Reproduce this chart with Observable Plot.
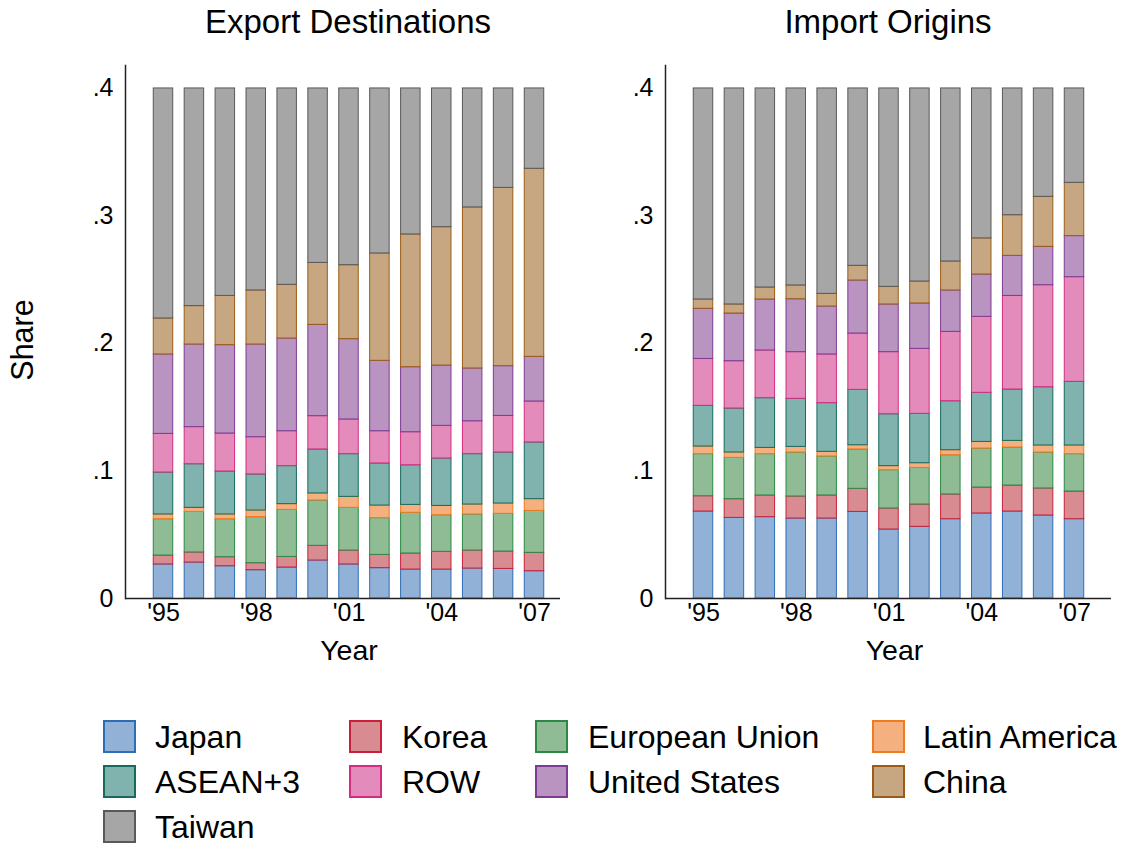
<!DOCTYPE html>
<html>
<head>
<meta charset="utf-8">
<script src="https://cdn.jsdelivr.net/npm/d3@7"></script>
<script src="https://cdn.jsdelivr.net/npm/@observablehq/plot@0.6"></script>
<style>
  body { margin: 0; background: #fff; font-family: "Liberation Sans", Arial, sans-serif; }
  #root { position: relative; width: 1121px; height: 844px; overflow: hidden; }
  .title { position: absolute; top: 2px; width: 600px; text-align: center; font-size: 33px; line-height: 40px; color: #000; }
  .panel { position: absolute; top: 50px; }
  .sw { position: absolute; width: 33px; height: 33px; box-sizing: border-box; border: 2px solid; }
  .lt { position: absolute; font-size: 32px; line-height: 40px; color: #000; white-space: nowrap; }
  .ylab { position: absolute; left: 22px; top: 340px; width: 200px; margin-left: -100px; margin-top: -20px; text-align: center; font-size: 30.5px; line-height: 40px; transform: rotate(-90deg); color: #000; }
</style>
</head>
<body>
<div id="root"></div>
<script>
const years = [1995, 1996, 1997, 1998, 1999, 2000, 2001, 2002, 2003, 2004, 2005, 2006, 2007];
const yearTicks = [1995, 1998, 2001, 2004, 2007];
const shareTicks = [0, 0.1, 0.2, 0.3, 0.4];
const regions = ["Japan", "Korea", "European Union", "Latin America", "ASEAN+3", "ROW", "United States", "China", "Taiwan"];
const fills   = ["#91b2d6", "#d98b92", "#8fbc95", "#f4b07e", "#80b3ad", "#e38bba", "#b994c1", "#c6a782", "#a6a6a6"];
const strokes = ["#2e6db5", "#c8203a", "#2a8a45", "#f07a1e", "#166b5e", "#d52b80", "#7d3b94", "#9c5c16", "#595959"];

// Export destinations (shares by year, 1995-2007)
const expJapan = [.0267, .0282, .0253, .0222, .0243, .0298, .0267, .0238, .0227, .0227, .0235, .0232, .0214];
const expKorea = [.0070, .0079, .0071, .0055, .0083, .0115, .0109, .0104, .0126, .0139, .0141, .0136, .0144];
const expEU    = [.0285, .0318, .0298, .0361, .0369, .0356, .0335, .0288, .0319, .0287, .0283, .0296, .0329];
const expLatAm = [.0037, .0032, .0037, .0052, .0045, .0055, .0086, .0099, .0062, .0073, .0078, .0081, .0092];
const expASEAN = [.0329, .0342, .0337, .0283, .0298, .0345, .0335, .0330, .0311, .0372, .0395, .0400, .0445];
const expROW   = [.0303, .0291, .0298, .0292, .0274, .0261, .0272, .0253, .0259, .0256, .0258, .0287, .0321];
const expUS    = [.0623, .0648, .0693, .0727, .0727, .0716, .0630, .0552, .0510, .0473, .0414, .0390, .0350];
const expChina = [.0282, .0301, .0386, .0424, .0421, .0486, .0580, .0842, .1041, .1085, .1263, .1398, .1475];
const expTaiwan= [.1804, .1707, .1627, .1584, .1540, .1368, .1386, .1294, .1145, .1088, .0933, .0780, .0630];

// Import origins (shares by year, 1995-2007)
const impJapan = [.0682, .0632, .0638, .0627, .0627, .0679, .0541, .0562, .0622, .0667, .0682, .0651, .0622];
const impKorea = [.0120, .0147, .0170, .0173, .0181, .0181, .0165, .0175, .0194, .0203, .0204, .0212, .0217];
const impEU    = [.0330, .0324, .0324, .0345, .0306, .0309, .0300, .0287, .0308, .0306, .0298, .0282, .0293];
const impLatAm = [.0060, .0042, .0049, .0044, .0036, .0033, .0032, .0037, .0039, .0052, .0052, .0055, .0068];
const impASEAN = [.0319, .0345, .0390, .0377, .0382, .0434, .0407, .0387, .0384, .0385, .0403, .0457, .0499];
const impROW   = [.0368, .0371, .0374, .0366, .0382, .0442, .0487, .0510, .0544, .0596, .0734, .0800, .0821];
const impUS    = [.0393, .0374, .0400, .0415, .0376, .0416, .0374, .0356, .0325, .0332, .0314, .0301, .0322];
const impChina = [.0073, .0071, .0094, .0108, .0099, .0115, .0138, .0172, .0227, .0283, .0319, .0392, .0418];
const impTaiwan= [.1655, .1694, .1561, .1545, .1611, .1391, .1556, .1514, .1357, .1176, .0994, .0850, .0740];

const exportSeries = [expJapan, expKorea, expEU, expLatAm, expASEAN, expROW, expUS, expChina, expTaiwan];
const importSeries = [impJapan, impKorea, impEU, impLatAm, impASEAN, impROW, impUS, impChina, impTaiwan];

function toRows(series) {
  const rows = [];
  series.forEach((vals, r) => {
    vals.forEach((v, i) => rows.push({year: years[i], region: regions[r], share: v, fill: fills[r], stroke: strokes[r]}));
  });
  return rows;
}

const fmtShare = d => d === 0 ? "0" : d3.format(".1f")(d).replace(/^0/, "");
const fmtYear = d => "'" + String(d).slice(2);

function panel(rows, width) {
  return Plot.plot({
    width, height: 630,
    marginLeft: 125, marginRight: 0, marginTop: 15, marginBottom: 82,
    style: {fontFamily: "'Liberation Sans', Arial, sans-serif", fontSize: "25px", background: "transparent", overflow: "visible", color: "#000"},
    x: {type: "band", domain: years, range: [137.8, 559.2], paddingInner: 0.37, paddingOuter: 0.5, round: false},
    y: {domain: [0, 0.418]},
    color: {type: "identity"},
    marks: [
      Plot.barY(rows, {x: "year", y: "share", fill: "fill", stroke: "stroke", strokeWidth: 1}),
      Plot.ruleY([0], {stroke: "#222", strokeWidth: 1.5}),
      Plot.frame({anchor: "left", stroke: "#222", strokeWidth: 1.5}),
      Plot.axisY({ticks: shareTicks, tickSize: 0, tickPadding: 12, tickFormat: fmtShare, label: null, fontSize: 25}),
      Plot.axisX({ticks: yearTicks, tickSize: 0, tickPadding: 5, tickFormat: fmtYear, label: null, fontSize: 25}),
      Plot.text(["Year"], {text: d => d, frameAnchor: "bottom", dy: 61, dx: 6, fontSize: 28.5})
    ]
  });
}

const root = document.getElementById("root");

function addTitle(text, center) {
  const t = document.createElement("div");
  t.className = "title";
  t.textContent = text;
  t.style.left = (center - 300) + "px";
  root.appendChild(t);
}
addTitle("Export Destinations", 348);
addTitle("Import Origins", 888);

const left = document.createElement("div");
left.className = "panel"; left.style.left = "0px";
left.appendChild(panel(toRows(exportSeries), 560));
root.appendChild(left);

const right = document.createElement("div");
right.className = "panel"; right.style.left = "540px";
right.appendChild(panel(toRows(importSeries), 571));
root.appendChild(right);

const ylab = document.createElement("div");
ylab.className = "ylab";
ylab.textContent = "Share";
root.appendChild(ylab);

// Legend
const swX = [103, 349, 535, 872];
const txX = [155, 402, 588, 923];
const rowY = [720, 765, 810];
regions.forEach((name, i) => {
  const c = i % 4, r = Math.floor(i / 4);
  const s = document.createElement("div");
  s.className = "sw";
  s.style.left = swX[c] + "px"; s.style.top = rowY[r] + "px";
  s.style.background = fills[i]; s.style.borderColor = strokes[i];
  root.appendChild(s);
  const t = document.createElement("div");
  t.className = "lt";
  t.textContent = name;
  t.style.left = txX[c] + "px"; t.style.top = (rowY[r] + 16.5 - 20) + "px";
  root.appendChild(t);
});
</script>
</body>
</html>
